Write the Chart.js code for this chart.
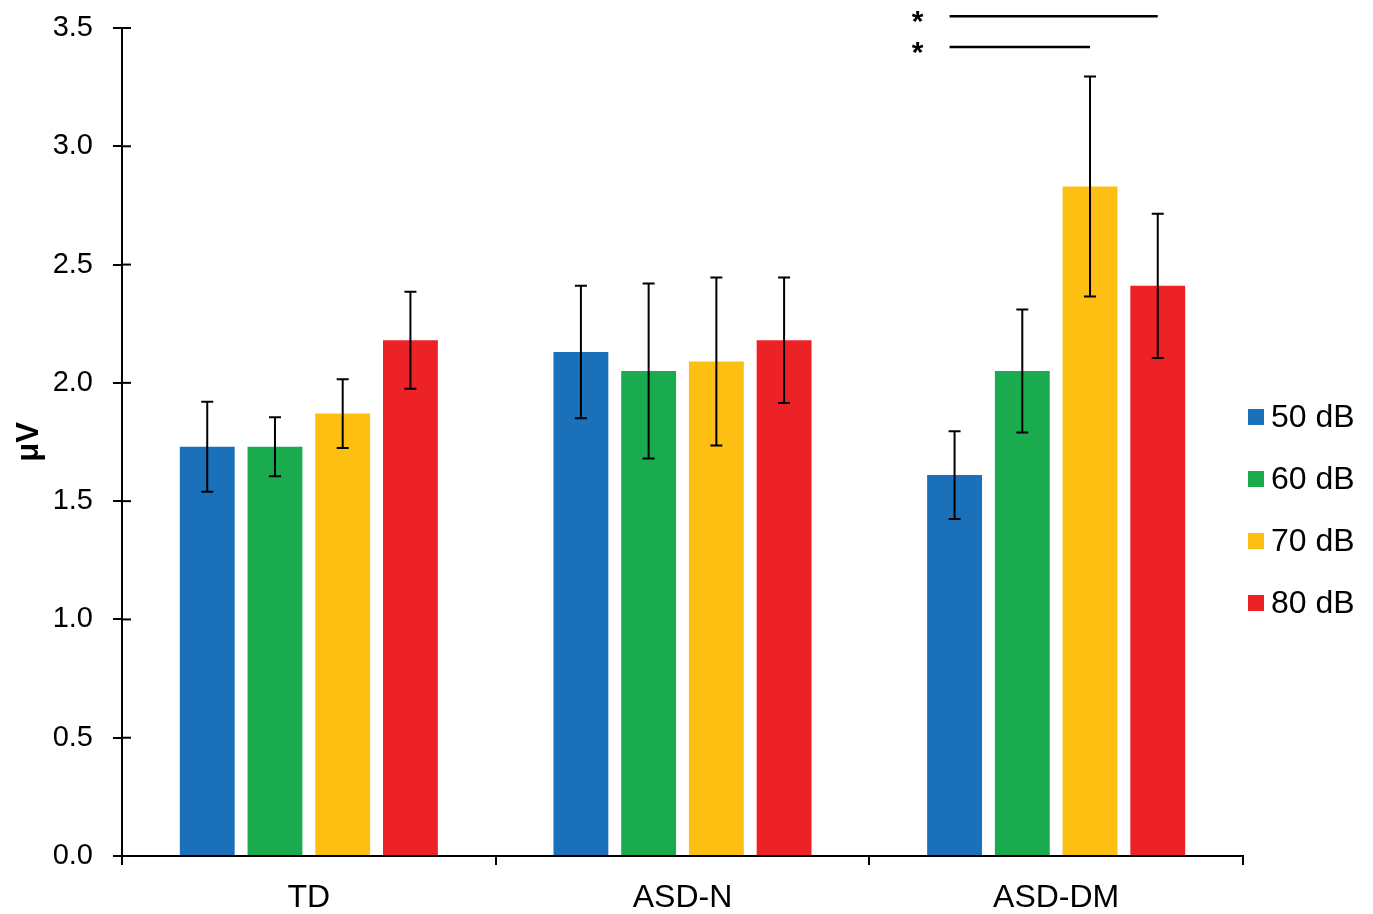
<!DOCTYPE html>
<html>
<head>
<meta charset="utf-8">
<script src="https://cdn.jsdelivr.net/npm/chart.js@4.4.0/dist/chart.umd.min.js"></script>
<style>
  html, body { margin: 0; padding: 0; background: #fff; }
  #wrap { width: 1373px; height: 914px; }
</style>
</head>
<body>
<div id="wrap"><canvas id="chart" width="1373" height="914"></canvas></div>
<script>
// ─── DATA ────────────────────────────────────────────────────────
const groups = ['TD', 'ASD-N', 'ASD-DM'];
const levels = ['50 dB', '60 dB', '70 dB', '80 dB'];
const colors = ['#1a70b9', '#1aab4f', '#fdbf12', '#ec2227'];

const mean50 = [1.73, 2.13, 1.61];
const mean60 = [1.73, 2.05, 2.05];
const mean70 = [1.87, 2.09, 2.83];
const mean80 = [2.18, 2.18, 2.41];

const err50 = [0.19, 0.28, 0.185];
const err60 = [0.125, 0.37, 0.26];
const err70 = [0.145, 0.355, 0.465];
const err80 = [0.205, 0.265, 0.305];

const yTicks = [0, 0.5, 1.0, 1.5, 2.0, 2.5, 3.0, 3.5];

// significance brackets within ASD-DM: [from level, to level, y value]
const sigGroup = 2;
const sigPairs = [[0, 3, 3.55], [0, 2, 3.42]];

const means = [mean50, mean60, mean70, mean80];
const errs  = [err50, err60, err70, err80];

const FONT = '"Liberation Sans", Arial, sans-serif';

// ─── PLUGINS ─────────────────────────────────────────────────────
const errorBars = {
  id: 'errorBars',
  afterDatasetsDraw(chart) {
    const { ctx, scales: { y } } = chart;
    ctx.save();
    ctx.strokeStyle = '#000';
    ctx.lineWidth = 2;
    chart.data.datasets.forEach((ds, i) => {
      chart.getDatasetMeta(i).data.forEach((bar, j) => {
        const v = ds.data[j], e = errs[i][j];
        const top = y.getPixelForValue(v + e), bot = y.getPixelForValue(v - e);
        ctx.beginPath();
        ctx.moveTo(bar.x, top); ctx.lineTo(bar.x, bot);
        ctx.moveTo(bar.x - 6, top); ctx.lineTo(bar.x + 6, top);
        ctx.moveTo(bar.x - 6, bot); ctx.lineTo(bar.x + 6, bot);
        ctx.stroke();
      });
    });
    ctx.restore();
  }
};

const extras = {
  id: 'extras',
  afterDraw(chart) {
    const { ctx, scales: { y } } = chart;
    ctx.save();
    // inner half of the y ticks (they cross the axis)
    ctx.strokeStyle = '#000';
    ctx.lineWidth = 2;
    y.ticks.forEach(t => {
      const py = y.getPixelForValue(t.value);
      ctx.beginPath(); ctx.moveTo(y.right, py); ctx.lineTo(y.right + 9, py); ctx.stroke();
    });
    // significance lines
    ctx.lineWidth = 2.5;
    ctx.fillStyle = '#000';
    ctx.font = 'bold 30px ' + FONT;
    ctx.textAlign = 'center';
    ctx.textBaseline = 'middle';
    sigPairs.forEach(([a, b, v]) => {
      const x0 = chart.getDatasetMeta(a).data[sigGroup].x - 5;
      const x1 = chart.getDatasetMeta(b).data[sigGroup].x;
      const py = y.getPixelForValue(v);
      ctx.beginPath(); ctx.moveTo(x0, py); ctx.lineTo(x1, py); ctx.stroke();
      ctx.fillText('*', x0 - 32, py + 7);
    });
    // legend
    ctx.textAlign = 'left';
    ctx.font = '32px ' + FONT;
    chart.data.datasets.forEach((ds, i) => {
      const cy = 417 + i * 62;
      ctx.fillStyle = ds.backgroundColor;
      ctx.fillRect(1248, cy - 8, 16, 16);
      ctx.fillStyle = '#000';
      ctx.fillText(ds.label, 1271, cy + 1);
    });
    ctx.restore();
  }
};

// ─── CHART ───────────────────────────────────────────────────────
new Chart(document.getElementById('chart'), {
  type: 'bar',
  data: {
    labels: groups,
    datasets: levels.map((lab, i) => ({
      label: lab,
      data: means[i],
      backgroundColor: colors[i],
      borderWidth: 0,
      categoryPercentage: 0.725,
      barPercentage: 0.81
    }))
  },
  options: {
    responsive: false,
    animation: false,
    devicePixelRatio: 1,
    layout: { padding: { top: 28, right: 130, left: 0, bottom: 0 } },
    plugins: { legend: { display: false }, tooltip: { enabled: false } },
    scales: {
      x: {
        afterFit: s => { s.height = 58; s.paddingLeft = 0; s.paddingRight = 0; },
        grid: { offset: true, drawOnChartArea: false, drawTicks: true, tickLength: 9, color: '#000', lineWidth: 2 },
        border: { display: true, color: '#000', width: 2 },
        ticks: { color: '#000', padding: 14, font: { family: FONT, size: 32 } }
      },
      y: {
        min: 0, max: 3.5,
        afterFit: s => { s.width = 122; s.paddingTop = 0; s.paddingBottom = 0; },
        afterBuildTicks: s => { s.ticks = yTicks.map(v => ({ value: v })); },
        grid: { drawOnChartArea: false, drawTicks: true, tickLength: 9, color: '#000', lineWidth: 2 },
        border: { display: true, color: '#000', width: 2 },
        ticks: { color: '#000', padding: 20, font: { family: FONT, size: 29 }, callback: v => v.toFixed(1) },
        title: { display: true, text: 'μV', color: '#000', padding: { top: 11, bottom: 0 }, font: { family: FONT, size: 31, weight: 'bold' } }
      }
    }
  },
  plugins: [errorBars, extras]
});
</script>
</body>
</html>
